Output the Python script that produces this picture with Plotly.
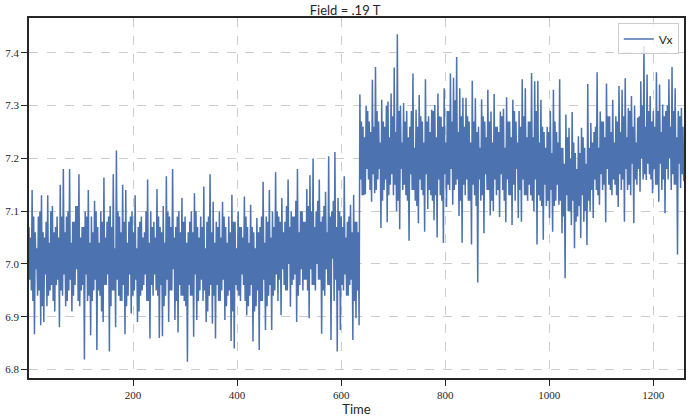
import plotly.graph_objects as go

# Main peaks of Vx, one per 6-unit bin starting at t = 0, 6, 12, ...
vx_upper = [
    7.07, 7.14, 7.06, 7.09, 7.13, 7.05, 7.13, 7.10, 7.06, 7.09,
    7.15, 7.18, 7.09, 7.18, 7.08, 7.11, 7.17, 7.07, 7.10, 7.14,
    7.09, 7.12, 7.07, 7.10, 7.164, 7.08, 7.11, 7.17, 7.215, 7.09,
    7.15, 7.14, 7.08, 7.10, 7.13, 7.07, 7.09, 7.06, 7.16, 7.10,
    7.08, 7.142, 7.07, 7.11, 7.166, 7.09, 7.18, 7.07, 7.10, 7.125,
    7.09, 7.06, 7.10, 7.134, 7.07, 7.09, 7.147, 7.08, 7.17, 7.118,
    7.08, 7.10, 7.118, 7.07, 7.09, 7.131, 7.08, 7.10, 7.07, 7.128,
    7.07, 7.112, 7.06, 7.087, 7.07, 7.156, 7.09, 7.14, 7.10, 7.174,
    7.09, 7.125, 7.08, 7.16, 7.10, 7.09, 7.18, 7.10, 7.08, 7.142,
    7.168, 7.20, 7.10, 7.16, 7.09, 7.137, 7.204, 7.10, 7.212, 7.125,
    7.09, 7.166, 7.08, 7.112, 7.131, 7.08, 7.321, 7.26, 7.30, 7.27,
    7.349, 7.373, 7.27, 7.311, 7.26, 7.308, 7.323, 7.372, 7.435, 7.30,
    7.305, 7.29, 7.26, 7.361, 7.292, 7.32, 7.27, 7.35, 7.28, 7.292,
    7.301, 7.323, 7.279, 7.333, 7.29, 7.361, 7.353, 7.392, 7.333, 7.315,
    7.315, 7.27, 7.347, 7.314, 7.26, 7.312, 7.27, 7.33, 7.289, 7.322,
    7.26, 7.289, 7.294, 7.316, 7.27, 7.311, 7.27, 7.29, 7.35, 7.333,
    7.27, 7.362, 7.346, 7.347, 7.311, 7.25, 7.26, 7.29, 7.33, 7.25,
    7.35, 7.22, 7.283, 7.258, 7.288, 7.21, 7.242, 7.258, 7.22, 7.341,
    7.267, 7.25, 7.363, 7.289, 7.27, 7.342, 7.28, 7.311, 7.28, 7.337,
    7.33, 7.352, 7.295, 7.318, 7.30, 7.277, 7.346, 7.413, 7.359, 7.318,
    7.29, 7.363, 7.34, 7.302, 7.29, 7.35, 7.373, 7.333, 7.29, 7.296,
]

# Main troughs of Vx, one per 6-unit bin
vx_lower = [
    6.95, 6.867, 6.94, 6.884, 6.89, 6.92, 6.95, 6.93, 6.96, 6.88,
    6.94, 6.92, 6.95, 6.91, 6.96, 6.93, 6.95, 6.819, 6.93, 6.865,
    6.95, 6.837, 6.94, 6.89, 6.96, 6.834, 6.95, 6.88, 6.94, 6.93,
    6.867, 6.94, 6.906, 6.95, 6.89, 6.94, 6.96, 6.93, 6.859, 6.94,
    6.95, 6.86, 6.863, 6.94, 6.89, 6.95, 6.894, 6.87, 6.94, 6.93,
    6.815, 6.94, 6.862, 6.894, 6.95, 6.93, 6.89, 6.94, 6.887, 6.859,
    6.93, 6.95, 6.894, 6.94, 6.854, 6.84, 6.95, 6.93, 6.96, 6.903,
    6.94, 6.853, 6.92, 6.837, 6.93, 6.875, 6.94, 6.875, 6.95, 6.93,
    6.903, 6.96, 6.95, 6.919, 6.97, 6.89, 6.96, 6.95, 6.97, 6.897,
    6.96, 6.95, 6.97, 6.868, 6.94, 6.96, 6.856, 6.93, 6.834, 6.875,
    6.95, 6.94, 6.96, 6.856, 6.897, 6.884, 7.13, 7.132, 7.16, 7.118,
    7.134, 7.16, 7.068, 7.14, 7.079, 7.15, 7.13, 7.10, 7.066, 7.14,
    7.13, 7.044, 7.14, 7.12, 7.077, 7.14, 7.061, 7.104, 7.13, 7.083,
    7.05, 7.13, 7.04, 7.108, 7.14, 7.112, 7.15, 7.091, 7.04, 7.13,
    7.12, 7.037, 7.13, 6.965, 7.12, 7.058, 7.14, 7.092, 7.10, 7.13,
    7.089, 7.14, 7.079, 7.13, 7.074, 7.12, 7.087, 7.08, 7.13, 7.12,
    7.13, 7.10, 7.037, 7.12, 7.046, 7.11, 7.087, 7.061, 7.12, 7.112,
    7.058, 6.973, 7.10, 7.074, 7.03, 7.09, 7.049, 7.08, 7.036, 7.10,
    7.087, 7.14, 7.112, 7.14, 7.079, 7.15, 7.13, 7.15, 7.108, 7.14,
    7.08, 7.14, 7.13, 7.077, 7.15, 7.137, 7.16, 7.159, 7.17, 7.134,
    7.15, 7.118, 7.14, 7.096, 7.16, 7.14, 7.15, 7.018, 7.144, 7.157,
]

# Secondary (inner) peaks of Vx, one per 6-unit bin
vx_upper2 = [
    7.05, 7.09, 7.03, 7.10, 7.06, 7.08, 7.04, 7.11, 7.07, 7.05,
    7.09, 7.06, 7.10, 7.04, 7.08, 7.11, 7.05, 7.07, 7.09, 7.04,
    7.06, 7.10, 7.04, 7.08, 7.05, 7.09, 7.07, 7.03, 7.10, 7.06,
    7.08, 7.04, 7.09, 7.06, 7.03, 7.08, 7.05, 7.10, 7.04, 7.07,
    7.05, 7.09, 7.06, 7.04, 7.10, 7.07, 7.05, 7.09, 7.06, 7.08,
    7.04, 7.08, 7.06, 7.10, 7.05, 7.07, 7.03, 7.09, 7.06, 7.04,
    7.07, 7.05, 7.09, 7.04, 7.06, 7.08, 7.03, 7.07, 7.05, 7.09,
    7.04, 7.07, 7.03, 7.06, 7.09, 7.04, 7.08, 7.05, 7.07, 7.10,
    7.08, 7.06, 7.11, 7.07, 7.09, 7.12, 7.06, 7.10, 7.08, 7.11,
    7.10, 7.07, 7.12, 7.08, 7.11, 7.06, 7.09, 7.12, 7.07, 7.10,
    7.07, 7.05, 7.09, 7.06, 7.08, 7.06, 7.27, 7.24, 7.29, 7.25,
    7.26, 7.29, 7.23, 7.27, 7.30, 7.24, 7.28, 7.25, 7.29, 7.23,
    7.27, 7.24, 7.29, 7.22, 7.26, 7.28, 7.23, 7.27, 7.25, 7.29,
    7.24, 7.28, 7.26, 7.23, 7.29, 7.27, 7.31, 7.25, 7.28, 7.26,
    7.28, 7.23, 7.27, 7.25, 7.22, 7.28, 7.24, 7.27, 7.23, 7.26,
    7.25, 7.28, 7.22, 7.27, 7.24, 7.29, 7.23, 7.26, 7.28, 7.24,
    7.27, 7.24, 7.29, 7.23, 7.26, 7.22, 7.25, 7.21, 7.27, 7.23,
    7.22, 7.19, 7.24, 7.20, 7.23, 7.18, 7.21, 7.24, 7.19, 7.22,
    7.23, 7.26, 7.22, 7.27, 7.24, 7.28, 7.25, 7.23, 7.27, 7.25,
    7.28, 7.24, 7.29, 7.26, 7.23, 7.28, 7.30, 7.26, 7.29, 7.27,
    7.26, 7.29, 7.25, 7.28, 7.30, 7.26, 7.29, 7.24, 7.28, 7.26,
]

# Secondary (inner) troughs of Vx, one per 6-unit bin
vx_lower2 = [
    6.97, 6.93, 6.99, 6.95, 6.92, 6.98, 6.94, 6.96, 6.91, 6.97,
    6.95, 6.98, 6.93, 6.97, 6.94, 6.99, 6.92, 6.96, 6.98, 6.94,
    6.93, 6.97, 6.95, 6.91, 6.96, 6.98, 6.92, 6.95, 6.97, 6.93,
    6.96, 6.92, 6.98, 6.94, 6.97, 6.91, 6.95, 6.98, 6.93, 6.96,
    6.98, 6.94, 6.96, 6.92, 6.97, 6.95, 6.99, 6.93, 6.96, 6.94,
    6.92, 6.96, 6.94, 6.98, 6.93, 6.97, 6.95, 6.91, 6.96, 6.94,
    6.96, 6.93, 6.97, 6.92, 6.95, 6.91, 6.96, 6.94, 6.98, 6.93,
    6.92, 6.96, 6.91, 6.95, 6.93, 6.97, 6.92, 6.96, 6.94, 6.98,
    6.97, 6.99, 6.95, 7.00, 6.96, 6.98, 6.94, 6.99, 6.97, 6.95,
    6.99, 6.96, 7.00, 6.97, 6.95, 6.99, 6.96, 7.01, 6.97, 6.95,
    6.96, 6.98, 6.94, 6.97, 6.93, 6.95, 7.16, 7.13, 7.18, 7.14,
    7.17, 7.14, 7.18, 7.12, 7.16, 7.13, 7.17, 7.15, 7.12, 7.18,
    7.15, 7.12, 7.17, 7.14, 7.11, 7.16, 7.13, 7.17, 7.14, 7.12,
    7.13, 7.16, 7.12, 7.17, 7.15, 7.18, 7.14, 7.16, 7.12, 7.15,
    7.16, 7.12, 7.15, 7.11, 7.16, 7.13, 7.17, 7.14, 7.12, 7.16,
    7.14, 7.17, 7.12, 7.16, 7.13, 7.15, 7.18, 7.14, 7.16, 7.13,
    7.15, 7.12, 7.16, 7.13, 7.11, 7.15, 7.12, 7.14, 7.11, 7.15,
    7.12, 7.09, 7.13, 7.10, 7.12, 7.08, 7.11, 7.13, 7.10, 7.12,
    7.14, 7.16, 7.13, 7.17, 7.15, 7.18, 7.14, 7.16, 7.13, 7.17,
    7.16, 7.18, 7.15, 7.19, 7.16, 7.18, 7.20, 7.17, 7.19, 7.16,
    7.18, 7.15, 7.19, 7.16, 7.18, 7.20, 7.17, 7.15, 7.19, 7.17,
]

x_ticks = [200, 400, 600, 800, 1000, 1200]
y_ticks = [6.8, 6.9, 7.0, 7.1, 7.2, 7.3, 7.4]

time = []
vx = []
for k in range(len(vx_upper)):
    t0 = 6 * k
    time += [t0, t0 + 1.5, t0 + 3, t0 + 4.5]
    vx += [vx_upper[k], vx_lower2[k], vx_upper2[k], vx_lower[k]]

fig = go.Figure()
fig.add_trace(go.Scatter(x=time, y=vx, mode="lines", name="Vx",
                         line=dict(color="#4c72b0", width=1.5)))

axis_common = dict(
    showline=True, mirror=True, linecolor="#262626", linewidth=1.5,
    ticks="outside", ticklen=6, tickwidth=1.2, tickcolor="#262626",
    showgrid=True, gridcolor="#cccccc", griddash="dash", gridwidth=1,
    zeroline=False, automargin=False,
    tickfont=dict(family="Liberation Serif", size=11, color="#262626"),
)

fig.update_layout(
    width=690, height=418,
    margin=dict(l=29, r=6, t=18, b=40),
    paper_bgcolor="white", plot_bgcolor="white",
    title=dict(text="Field = .19 T", x=0.5, xanchor="center", y=0.985, yanchor="top",
               font=dict(family="Lato", size=13, color="#262626")),
    xaxis=dict(range=[0, 1259], tickvals=x_ticks,
               title=dict(text="Time", font=dict(family="Lato", size=13, color="#262626"), standoff=0),
               **axis_common),
    yaxis=dict(range=[6.784, 7.466], tickvals=y_ticks, tickformat=".1f", **axis_common),
    showlegend=True,
    legend=dict(x=0.992, y=0.985, xanchor="right", yanchor="top",
                bgcolor="rgba(255,255,255,0.8)", bordercolor="#cccccc", borderwidth=1,
                font=dict(family="Lato", size=12, color="#262626")),
)

fig.write_html("out.html", config={"displayModeBar": False},
               post_script="document.body.style.margin='0';")
